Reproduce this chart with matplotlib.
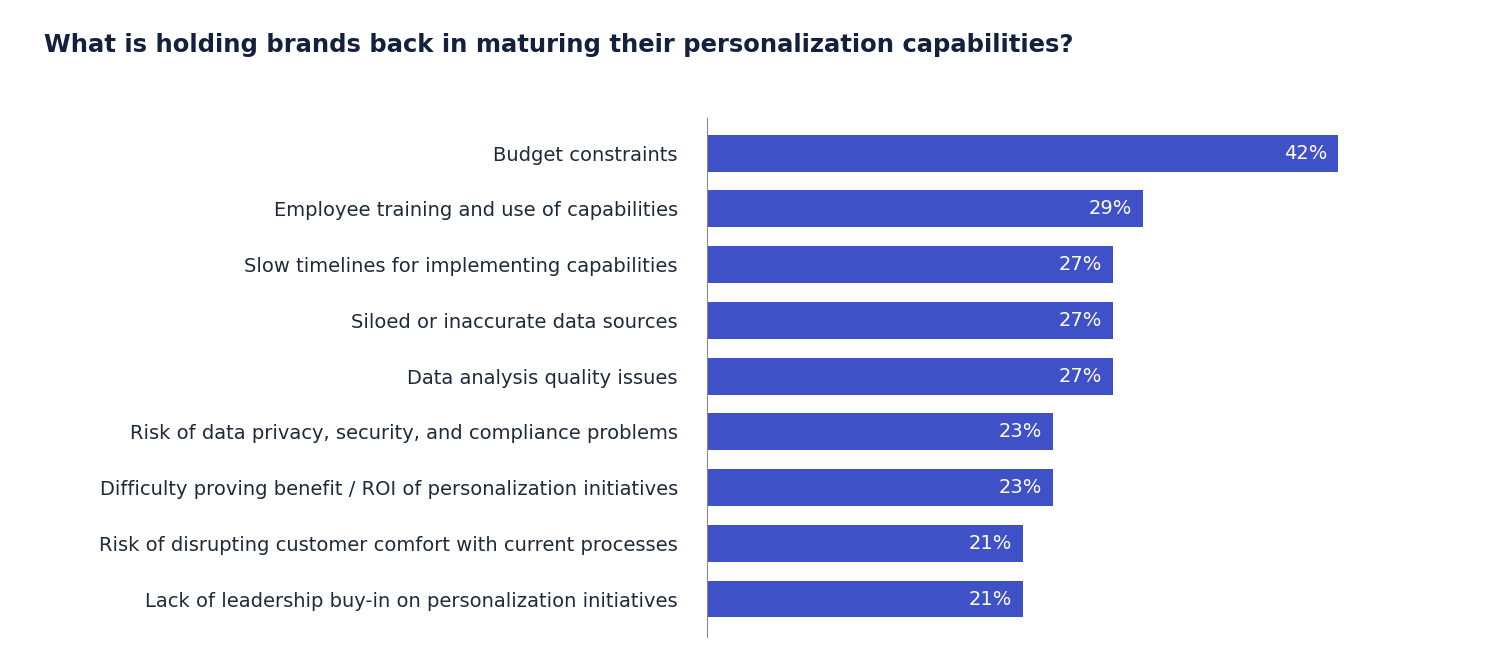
import matplotlib.pyplot as plt

categories = ["Budget constraints", "Employee training and use of capabilities",
              "Slow timelines for implementing capabilities", "Siloed or inaccurate data sources",
              "Data analysis quality issues", "Risk of data privacy, security, and compliance problems",
              "Difficulty proving benefit / ROI of personalization initiatives",
              "Risk of disrupting customer comfort with current processes",
              "Lack of leadership buy-in on personalization initiatives"]
values = [42, 29, 27, 27, 27, 23, 23, 21, 21]

W, H = 1496, 650
fig = plt.figure(figsize=(W/100, H/100), dpi=100)
ax = fig.add_axes([707/W, 1-637/H, (W-707)/W, (637-118)/H])
y = list(range(len(values)))
ax.barh(y, values, height=0.66, color="#3F51C6")
ax.set_xlim(0, 42*(W-707)/631)
ax.set_ylim(8.68, -0.63)
for yi, v in zip(y, values):
    ax.text(v-0.7, yi, f"{v}%", ha="right", va="center", color="white", fontsize=14)
ax.set_yticks(y)
ax.set_yticklabels(categories, fontsize=14, color="#1E2A3A")
ax.tick_params(axis="y", length=0, pad=21)
ax.set_xticks([])
for s in ["top", "right", "bottom"]:
    ax.spines[s].set_visible(False)
ax.spines["left"].set_color("#888888")
fig.text(44/W, 1-45/H, "What is holding brands back in maturing their personalization capabilities?",
         fontsize=17.5, fontweight="bold", color="#14213D", va="center", ha="left")
fig.savefig("out.png", dpi=100)
